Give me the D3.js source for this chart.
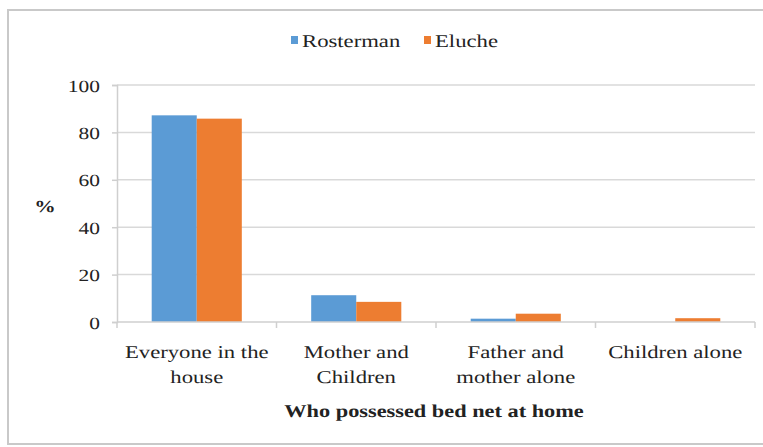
<!DOCTYPE html>
<html>
<head>
<meta charset="utf-8">
<script src="https://cdn.jsdelivr.net/npm/d3@7"></script>
<style>
  html, body { margin: 0; padding: 0; background: #fff; }
  svg { display: block; }
  svg text { text-rendering: geometricPrecision; }
</style>
</head>
<body>
<svg id="chart" width="763" height="447"></svg>
<script>
// Bed net possession by household member, two sites
const categories = [["Everyone in the", "house"], ["Mother and", "Children"], ["Father and", "mother alone"], ["Children alone"]];
const seriesNames = ["Rosterman", "Eluche"];
const rosterman = [87.2, 11.3, 1.4, 0];
const eluche = [85.8, 8.5, 3.5, 1.6];
const yTicks = [0, 20, 40, 60, 80, 100];
const colors = ["#5B9BD5", "#ED7D31"];

const FONT = "'Liberation Serif', 'Times New Roman', serif";
const INK = "#222222";

const svg = d3.select("#chart");
const stretch = 1.26; // text is drawn horizontally widened

const plot = { left: 117, right: 755, top: 85, bottom: 322 };

const catKeys = categories.map(c => c.join(" "));
const x0 = d3.scaleBand().domain(catKeys).range([plot.left, plot.right]).padding(0);
const x1 = d3.scaleBand().domain(seriesNames).range([0, x0.bandwidth()]).paddingInner(0).paddingOuter(0.77);
const y = d3.scaleLinear().domain([0, 100]).range([plot.bottom, plot.top]);

function styleText(sel, size, weight) {
  return sel.style("font-family", FONT).style("font-size", size + "px")
    .style("font-weight", weight || "normal").style("fill", INK);
}

// chart frame
svg.append("rect")
  .attr("x", 8).attr("y", 10).attr("width", 770).attr("height", 434)
  .attr("fill", "#fff").attr("stroke", "#c9c9c9").attr("stroke-width", 2);

// gridlines
svg.append("g").selectAll("line").data(yTicks.filter(t => t > 0)).join("line")
  .attr("x1", plot.left).attr("x2", plot.right)
  .attr("y1", d => y(d)).attr("y2", d => y(d))
  .attr("stroke", "#d9d9d9").attr("stroke-width", 1.5);

// y axis with outside ticks
const yAxis = svg.append("g").attr("transform", `translate(${plot.left},0)`)
  .call(d3.axisLeft(y).tickValues(yTicks).tickSize(5).tickPadding(12).tickFormat(d3.format("d")));
yAxis.select(".domain").attr("stroke", "#cfcfcf").attr("stroke-width", 1.5);
yAxis.selectAll(".tick line").attr("stroke", "#cfcfcf").attr("stroke-width", 1.5);
yAxis.selectAll(".tick text")
  .call(styleText, 17)
  .attr("dy", "0.36em")
  .each(function() {
    const t = d3.select(this);
    const xx = +t.attr("x");
    t.attr("x", null).attr("transform", `translate(${xx},0) scale(${stretch},1)`);
  });

// bars
const data = catKeys.map((k, i) => ({ key: k, values: [rosterman[i], eluche[i]] }));
const groups = svg.append("g").selectAll("g").data(data).join("g")
  .attr("transform", d => `translate(${x0(d.key)},0)`);
groups.selectAll("rect").data(d => d.values.map((v, j) => ({ name: seriesNames[j], v, j }))).join("rect")
  .attr("x", d => x1(d.name)).attr("width", x1.bandwidth())
  .attr("y", d => y(d.v)).attr("height", d => y(0) - y(d.v))
  .attr("fill", d => colors[d.j]);

// x axis line and category separator ticks
const xAxis = svg.append("g");
xAxis.append("line")
  .attr("x1", plot.left).attr("x2", plot.right)
  .attr("y1", y(0)).attr("y2", y(0))
  .attr("stroke", "#cfcfcf").attr("stroke-width", 1.5);
const bounds = catKeys.map(k => x0(k)).concat([plot.right]);
xAxis.selectAll("line.sep").data(bounds).join("line").attr("class", "sep")
  .attr("x1", d => d).attr("x2", d => d)
  .attr("y1", y(0)).attr("y2", y(0) + 6)
  .attr("stroke", "#cfcfcf").attr("stroke-width", 1.5);

// category labels
const labels = svg.append("g").selectAll("g").data(categories).join("g")
  .attr("transform", (d, i) => `translate(${x0(catKeys[i]) + x0.bandwidth() / 2},0)`);
labels.selectAll("text").data(d => d).join("text")
  .call(styleText, 18)
  .attr("text-anchor", "middle")
  .attr("transform", (d, i) => `translate(0,${358 + i * 25}) scale(${stretch},1)`)
  .text(d => d);

// axis titles
svg.append("text")
  .call(styleText, 18, "bold")
  .attr("text-anchor", "middle")
  .attr("transform", `translate(${(plot.left + plot.right) / 2 - 2},417) scale(${stretch - 0.02},1)`)
  .text("Who possessed bed net at home");
svg.append("text")
  .call(styleText, 17, "bold")
  .attr("text-anchor", "middle")
  .attr("transform", `translate(45,212) scale(${stretch},1)`)
  .text("%");

// legend
const legendItems = [{ name: seriesNames[0], x: 291 }, { name: seriesNames[1], x: 424 }];
const legend = svg.append("g").selectAll("g").data(legendItems).join("g")
  .attr("transform", d => `translate(${d.x},0)`);
legend.append("rect")
  .attr("x", 0).attr("y", 36).attr("width", 7).attr("height", 8)
  .attr("fill", (d, i) => colors[i]);
legend.append("text")
  .call(styleText, 18)
  .attr("transform", `translate(11,47) scale(${stretch},1)`)
  .text(d => d.name);
</script>
</body>
</html>
